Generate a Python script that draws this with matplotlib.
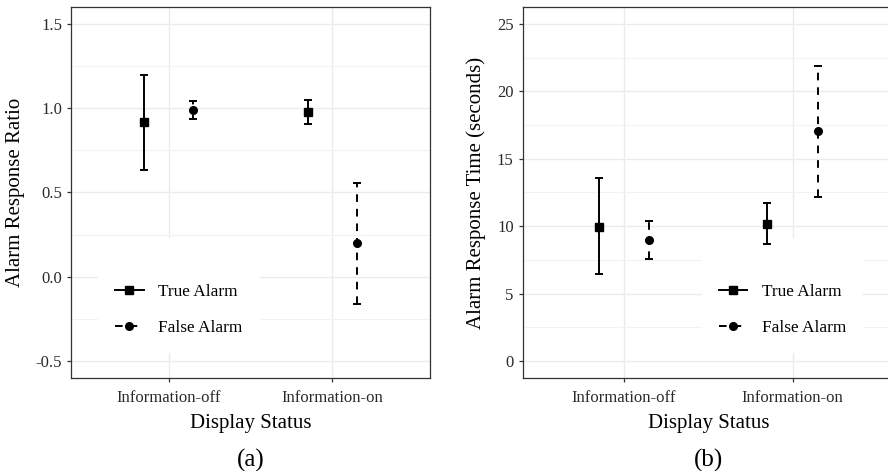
import numpy as np
import matplotlib
matplotlib.use("Agg")
import matplotlib.pyplot as plt
from matplotlib.ticker import MultipleLocator, FormatStrFormatter
from matplotlib.lines import Line2D

plt.rcParams['font.family'] = ['Liberation Serif', 'DejaVu Serif']
plt.rcParams['lines.scale_dashes'] = False
plt.rcParams['axes.unicode_minus'] = False

status = ["Information-off", "Information-on"]
series = ["True Alarm", "False Alarm"]

# (a) alarm response ratio
ratio_mean = {"True Alarm": [0.915, 0.98], "False Alarm": [0.99, 0.198]}
ratio_lo = {"True Alarm": [0.634, 0.907], "False Alarm": [0.938, -0.164]}
ratio_hi = {"True Alarm": [1.197, 1.051], "False Alarm": [1.043, 0.559]}

# (b) alarm response time (seconds)
time_mean = {"True Alarm": [9.95, 10.15], "False Alarm": [8.95, 17.05]}
time_lo = {"True Alarm": [6.45, 8.7], "False Alarm": [7.6, 12.15]}
time_hi = {"True Alarm": [13.55, 11.7], "False Alarm": [10.4, 21.9]}

markers = {"True Alarm": "s", "False Alarm": "o"}
styles = {"True Alarm": "-", "False Alarm": (0, (5.5, 5))}
offsets = {"True Alarm": -0.15, "False Alarm": 0.15}

GRID = "#EBEBEB"
DARK = "#333333"


def panel(ax, mean, lo, hi, ylim, major, ylabel, letter, legend_anchor):
    x = np.arange(1, len(status) + 1)
    for s in series:
        m = np.array(mean[s])
        err = np.vstack([m - np.array(lo[s]), np.array(hi[s]) - m])
        cont = ax.errorbar(x + offsets[s], m, yerr=err, fmt=markers[s], color="black",
                           ms=5.5, elinewidth=1.4, capsize=3.2, capthick=1.4,
                           label=s, zorder=3)
        cont[2][0].set_linestyle(styles[s])
    ax.set_xlim(0.4, 2.6)
    ax.set_ylim(*ylim)
    ax.set_xticks(x)
    ax.set_xticklabels(status)
    ax.yaxis.set_major_locator(MultipleLocator(major))
    ax.yaxis.set_minor_locator(MultipleLocator(major / 2))
    ax.set_axisbelow(True)
    ax.grid(which="major", color=GRID, lw=1.0)
    ax.grid(which="minor", axis="y", color="#F2F2F2", lw=0.8)
    ax.tick_params(which="minor", length=0)
    ax.tick_params(which="major", length=3, width=0.9, color=DARK,
                   labelsize=12, labelcolor="#2a2a2a", pad=3.5)
    ax.tick_params(axis="x", pad=5.5)
    for sp in ax.spines.values():
        sp.set_color(DARK)
        sp.set_linewidth(0.9)
    ax.set_xlabel("Display Status", fontsize=15, labelpad=6)
    ax.set_ylabel(ylabel, fontsize=15, labelpad=7.5)
    ax.text(0.5, -0.19, letter, transform=ax.transAxes, ha="center", va="top", fontsize=18)

    # legend keys: solid line for true alarm, dashed for false alarm
    handles = [Line2D([], [], color="black", lw=1.4, ls=styles[s], marker=markers[s], ms=5.5)
               for s in series]
    leg = ax.legend(handles, series, loc="lower left", bbox_to_anchor=legend_anchor,
                    frameon=True, fancybox=False, facecolor="white", edgecolor="none",
                    framealpha=1, fontsize=12.4, handlelength=1.65, handletextpad=0.85,
                    labelspacing=1.15, borderpad=1.0, borderaxespad=0,
                    title=" ", title_fontsize=8)
    leg.set_zorder(2)


fig = plt.figure(figsize=(8.88, 4.71), dpi=100)
ax1 = fig.add_axes([0.080, 0.1975, 0.4043, 0.7877])
ax2 = fig.add_axes([0.5886, 0.1975, 0.4180, 0.7877])

panel(ax1, ratio_mean, ratio_lo, ratio_hi, (-0.6, 1.6), 0.5,
      "Alarm Response Ratio", "(a)", (0.075, 0.067))
panel(ax2, time_mean, time_lo, time_hi, (-1.25, 26.25), 5,
      "Alarm Response Time (seconds)", "(b)", (0.482, 0.067))
ax2.yaxis.set_major_formatter(FormatStrFormatter("%d"))

fig.savefig("out.png", dpi=100)
